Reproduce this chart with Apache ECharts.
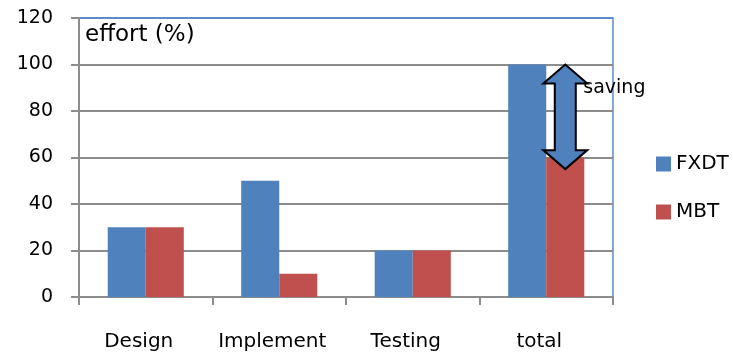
<!DOCTYPE html>
<html>
<head>
<meta charset="utf-8">
<script src="https://cdn.jsdelivr.net/npm/echarts@6/dist/echarts.min.js"></script>
<style>
  html, body { margin: 0; padding: 0; background: #fff; }
  #chart { width: 733px; height: 355px; }
</style>
</head>
<body>
<div id="chart"></div>
<script>
// Effort per phase, FXDT vs MBT (%)
const categories = ['Design', 'Implement', 'Testing', 'total'];
const fxdtValues = [30, 50, 20, 100];
const mbtValues = [30, 10, 20, 60];
const yTicks = { min: 0, max: 120, interval: 20 };
// vertical extent of the "saving" arrow drawn over the MBT total bar
const savingRange = [100, 55];

const FONT = 'DejaVu Sans';
const BLUE = '#4F81BD';
const RED = '#C0504D';
const GRAY = '#8c8c8c';
const FRAME = '#5B8BCB';

const chart = echarts.init(document.getElementById('chart'), null, { renderer: 'canvas' });

// gridlines are gray, except the top one which doubles as the blue plot frame
const gridColors = [];
for (let v = yTicks.min; v < yTicks.max; v += yTicks.interval) gridColors.push(GRAY);
gridColors.push(FRAME);

const option = {
  animation: false,
  backgroundColor: '#ffffff',
  textStyle: { fontFamily: FONT, color: '#000' },
  title: {
    text: 'effort (%)',
    left: 85, top: 24, padding: 0,
    textStyle: { fontFamily: FONT, fontSize: 23, fontWeight: 'normal', color: '#000' }
  },
  legend: {
    orient: 'vertical',
    left: 656, top: 154, padding: 0,
    itemWidth: 15, itemHeight: 15, itemGap: 28,
    icon: 'rect',
    textStyle: { fontFamily: FONT, fontSize: 20, color: '#000' },
    data: ['FXDT', 'MBT']
  },
  grid: {
    left: 79, right: 120, top: 18, bottom: 58,
    containLabel: false,
    outerBoundsMode: 'none',
    show: true, borderColor: FRAME, borderWidth: 1.5
  },
  xAxis: {
    type: 'category',
    data: categories,
    axisLine: { show: true, lineStyle: { color: GRAY, width: 2 } },
    axisTick: { show: true, length: 8, lineStyle: { color: GRAY, width: 2 } },
    axisLabel: {
      interval: 0, fontFamily: FONT, fontSize: 20, color: '#000', margin: 35,
      padding: [0, 14, 0, 0]
    },
    splitLine: { show: false }
  },
  yAxis: {
    type: 'value',
    min: yTicks.min, max: yTicks.max, interval: yTicks.interval,
    axisLine: { show: true, lineStyle: { color: GRAY, width: 2 } },
    axisTick: { show: true, length: 8, lineStyle: { color: GRAY, width: 2 } },
    axisLabel: { fontFamily: FONT, fontSize: 19, color: '#000', margin: 26 },
    splitLine: { show: true, lineStyle: { color: gridColors, width: 2 } }
  },
  series: [
    {
      name: 'FXDT', type: 'bar', data: fxdtValues,
      itemStyle: { color: BLUE },
      barGap: '0%', barCategoryGap: '43%'
    },
    {
      name: 'MBT', type: 'bar', data: mbtValues,
      itemStyle: { color: RED },
      barGap: '0%', barCategoryGap: '43%'
    }
  ]
};

chart.setOption(option);

// Double-headed "saving" arrow over the MBT bar of the last category
function drawSavingArrow() {
  const idx = categories.length - 1;
  const layout = chart.getModel().getSeriesByIndex(1).getData().getItemLayout(idx);
  const cx = layout.x + layout.width / 2;
  const yTop = chart.convertToPixel({ yAxisIndex: 0 }, savingRange[0]);
  const yBot = chart.convertToPixel({ yAxisIndex: 0 }, savingRange[1]);
  const headHalf = 22, shaftHalf = 10.5, headLen = 19;
  const pts = [
    [cx, yTop],
    [cx + headHalf, yTop + headLen],
    [cx + shaftHalf, yTop + headLen],
    [cx + shaftHalf, yBot - headLen],
    [cx + headHalf, yBot - headLen],
    [cx, yBot],
    [cx - headHalf, yBot - headLen],
    [cx - shaftHalf, yBot - headLen],
    [cx - shaftHalf, yTop + headLen],
    [cx - headHalf, yTop + headLen]
  ];
  chart.setOption({
    graphic: [
      {
        type: 'polygon', z: 100,
        shape: { points: pts },
        style: { fill: BLUE, stroke: '#000', lineWidth: 2 }
      },
      {
        type: 'text', z: 101,
        x: cx + 18, y: yTop + 24,
        style: {
          text: 'saving', fontFamily: FONT, fontSize: 19, fill: '#000',
          verticalAlign: 'middle', align: 'left'
        }
      }
    ]
  });
}
drawSavingArrow();
</script>
</body>
</html>
